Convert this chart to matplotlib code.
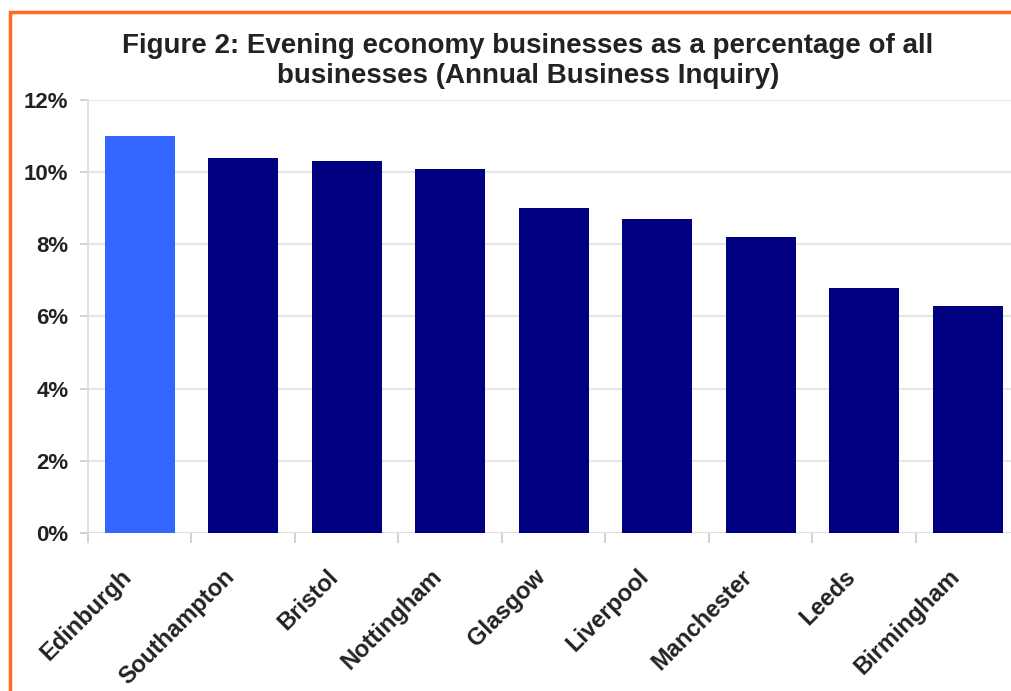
import matplotlib.pyplot as plt
from matplotlib.patches import Rectangle
from matplotlib.ticker import FuncFormatter, FixedLocator
from matplotlib.transforms import ScaledTranslation

plt.rcParams['font.family'] = ['Liberation Sans', 'DejaVu Sans']

cities = ['Edinburgh', 'Southampton', 'Bristol', 'Nottingham', 'Glasgow',
          'Liverpool', 'Manchester', 'Leeds', 'Birmingham']
share = [11.0, 10.4, 10.3, 10.1, 9.0, 8.7, 8.2, 6.8, 6.3]
highlight = 'Edinburgh'

fig = plt.figure(figsize=(10.11, 6.91), dpi=100)
ax = fig.add_axes([0.087, 0.2287, 0.9214, 0.6266])

colors = ['#3366ff' if c == highlight else '#000080' for c in cities]
x = list(range(len(cities)))
ax.bar(x, share, width=0.68, color=colors, zorder=3)

ax.set_xlim(-0.5, len(cities) - 0.5)
ax.set_ylim(0, 12)
ax.set_yticks(range(0, 13, 2))
ax.yaxis.set_major_formatter(FuncFormatter(lambda v, p: f'{v:.0f}%'))
ax.yaxis.grid(True, color='#e6e6e6', linewidth=1.5, zorder=0)

# city names under the bars, slanted and nudged left of the bar centre
ax.set_xticks([])
label_offset = ax.get_xaxis_transform() + ScaledTranslation(-0.20, -0.32, fig.dpi_scale_trans)
for i, name in zip(x, cities):
    ax.text(i, 0, name, transform=label_offset, rotation=45, ha='right', va='top',
            rotation_mode='anchor', fontsize=17, fontweight='bold', color='#222222')

ax.xaxis.set_minor_locator(FixedLocator([i + 0.5 for i in range(-1, len(cities))]))
ax.tick_params(axis='x', which='minor', length=7, color='#cccccc', width=1.2)
ax.tick_params(axis='y', length=6, color='#cccccc', width=1.2, pad=8,
               labelsize=16, labelcolor='#222222')
for lab in ax.get_yticklabels():
    lab.set_fontweight('bold')

for side in ['top', 'right', 'bottom']:
    ax.spines[side].set_visible(False)
ax.spines['left'].set_color('#dddddd')
ax.spines['left'].set_linewidth(1.2)
ax.axhline(0, color='#dddddd', linewidth=1.5, zorder=2)

fig.text(0.522, 0.912, 'Figure 2: Evening economy businesses as a percentage of all\n'
         'businesses (Annual Business Inquiry)', ha='center', va='center',
         fontsize=20, fontweight='bold', color='#222222', linespacing=1.2)

# orange frame around the figure
fig.patches.append(Rectangle((10 / 1011, -0.05), 1.1, 1 - 12 / 691 + 0.05,
                             transform=fig.transFigure, fill=False,
                             edgecolor='#ff6a1f', linewidth=2.5))

fig.savefig('out.png', dpi=100)
